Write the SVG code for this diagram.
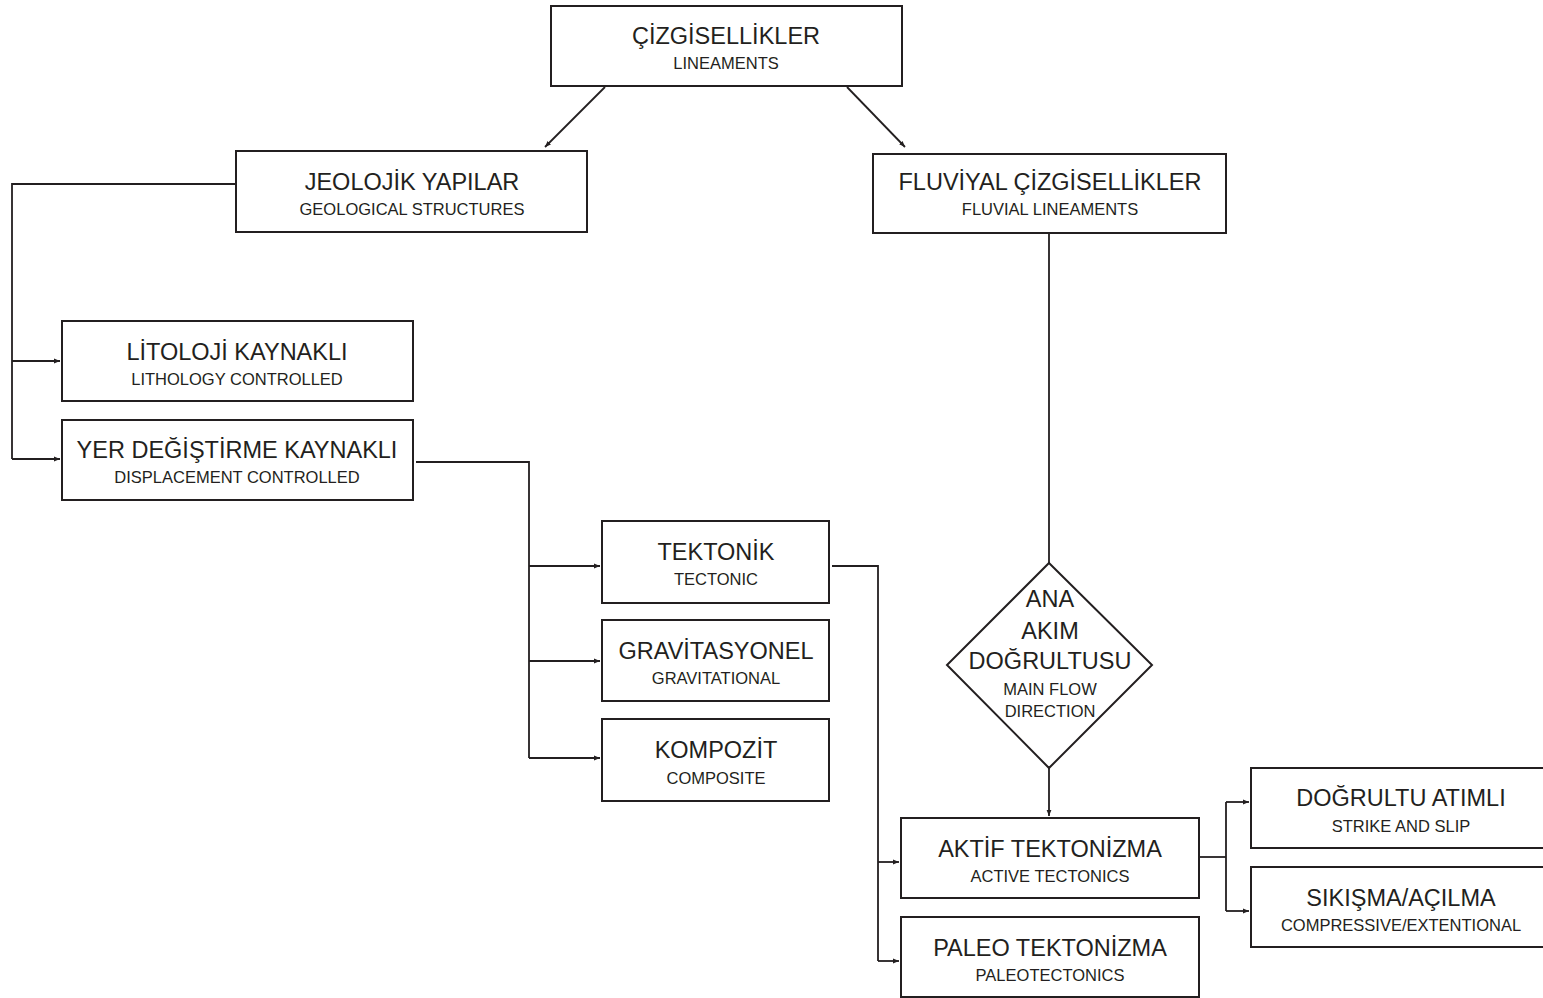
<svg xmlns="http://www.w3.org/2000/svg" width="1543" height="998" viewBox="0 0 1543 998">
<style>
.box{fill:#fff;stroke:#231f20;stroke-width:2}
.t{font-family:"Liberation Sans",Arial,sans-serif;font-size:23.5px;fill:#231f20;text-anchor:middle}
.s{font-family:"Liberation Sans",Arial,sans-serif;font-size:16.5px;fill:#231f20;text-anchor:middle}
.c{fill:none;stroke:#231f20;stroke-width:1.8}
</style>
<defs>
<marker id="a" viewBox="0 0 10 10" refX="10" refY="5" markerWidth="6" markerHeight="6" markerUnits="userSpaceOnUse" orient="auto"><path d="M0,1 L10,5 L0,9 z" fill="#231f20"/></marker>
</defs>
<rect width="1543" height="998" fill="#fff"/>
<g id="connectors">
<path class="c" d="M605,87 L545,147" marker-end="url(#a)"/>
<path class="c" d="M847,87 L905,147" marker-end="url(#a)"/>
<path class="c" d="M236,184 H12 V459"/>
<path class="c" d="M12,361 H60" marker-end="url(#a)"/>
<path class="c" d="M12,459 H60" marker-end="url(#a)"/>
<path class="c" d="M416,462 H529 V758"/>
<path class="c" d="M529,566 H600" marker-end="url(#a)"/>
<path class="c" d="M529,661 H600" marker-end="url(#a)"/>
<path class="c" d="M529,758 H600" marker-end="url(#a)"/>
<path class="c" d="M832,566 H878 V961"/>
<path class="c" d="M878,862 H899" marker-end="url(#a)"/>
<path class="c" d="M878,961 H899" marker-end="url(#a)"/>
<path class="c" d="M1049,233 V563"/>
<path class="c" d="M1049,768 V816" marker-end="url(#a)"/>
<path class="c" d="M1199,857 H1226"/>
<path class="c" d="M1226,802 V911"/>
<path class="c" d="M1226,802 H1249" marker-end="url(#a)"/>
<path class="c" d="M1226,911 H1249" marker-end="url(#a)"/>
</g>
<g id="n-lineaments"><rect class="box" x="551" y="6" width="351" height="80"/><text class="t" x="726" y="44">ÇİZGİSELLİKLER</text><text class="s" x="726" y="69">LINEAMENTS</text></g>
<g id="n-jeolojik"><rect class="box" x="236" y="151" width="351" height="81"/><text class="t" x="412" y="190">JEOLOJİK YAPILAR</text><text class="s" x="412" y="215">GEOLOGICAL STRUCTURES</text></g>
<g id="n-fluviyal"><rect class="box" x="873" y="154" width="353" height="79"/><text class="t" x="1050" y="190">FLUVİYAL ÇİZGİSELLİKLER</text><text class="s" x="1050" y="215">FLUVIAL LINEAMENTS</text></g>
<g id="n-litoloji"><rect class="box" x="62" y="321" width="351" height="80"/><text class="t" x="237" y="360">LİTOLOJİ KAYNAKLI</text><text class="s" x="237" y="385">LITHOLOGY CONTROLLED</text></g>
<g id="n-yer"><rect class="box" x="62" y="420" width="351" height="80"/><text class="t" x="237" y="458">YER DEĞİŞTİRME KAYNAKLI</text><text class="s" x="237" y="483">DISPLACEMENT CONTROLLED</text></g>
<g id="n-tektonik"><rect class="box" x="602" y="521" width="227" height="82"/><text class="t" x="716" y="560">TEKTONİK</text><text class="s" x="716" y="585">TECTONIC</text></g>
<g id="n-grav"><rect class="box" x="602" y="620" width="227" height="81"/><text class="t" x="716" y="659">GRAVİTASYONEL</text><text class="s" x="716" y="684">GRAVITATIONAL</text></g>
<g id="n-kompozit"><rect class="box" x="602" y="719" width="227" height="82"/><text class="t" x="716" y="758">KOMPOZİT</text><text class="s" x="716" y="784">COMPOSITE</text></g>
<g id="n-anaakim"><polygon class="box" points="1049,563 1152,665 1049,768 947,665"/>
<text class="t" x="1050" y="607">ANA</text><text class="t" x="1050" y="639">AKIM</text><text class="t" x="1050" y="669">DOĞRULTUSU</text>
<text class="s" x="1050" y="695">MAIN FLOW</text><text class="s" x="1050" y="717">DIRECTION</text></g>
<g id="n-aktif"><rect class="box" x="901" y="818" width="298" height="80"/><text class="t" x="1050" y="857">AKTİF TEKTONİZMA</text><text class="s" x="1050" y="882">ACTIVE TECTONICS</text></g>
<g id="n-paleo"><rect class="box" x="901" y="917" width="298" height="80"/><text class="t" x="1050" y="956">PALEO TEKTONİZMA</text><text class="s" x="1050" y="981">PALEOTECTONICS</text></g>
<g id="n-dogrultu"><rect class="box" x="1251" y="768" width="294" height="80"/><text class="t" x="1401" y="806">DOĞRULTU ATIMLI</text><text class="s" x="1401" y="832">STRIKE AND SLIP</text></g>
<g id="n-sikisma"><rect class="box" x="1251" y="867" width="294" height="80"/><text class="t" x="1401" y="906">SIKIŞMA/AÇILMA</text><text class="s" x="1401" y="931">COMPRESSIVE/EXTENTIONAL</text></g>
</svg>
